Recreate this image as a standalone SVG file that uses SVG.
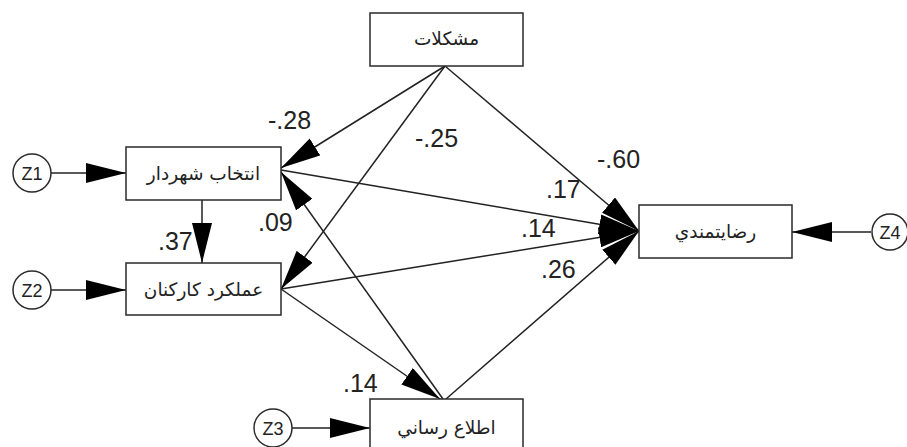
<svg xmlns="http://www.w3.org/2000/svg" width="907" height="447" viewBox="0 0 907 447">
<style>
.box{fill:#fff;stroke:#2a2a2a;stroke-width:1.5}
.circ{fill:#fff;stroke:#2a2a2a;stroke-width:1.5}
.lbl{font-family:"DejaVu Sans","Noto Sans",sans-serif;font-size:18.5px;fill:#222;text-anchor:middle}
.zl{font-family:"Liberation Sans",Arial,sans-serif;font-size:18px;fill:#222;text-anchor:middle}
.num{font-family:"Liberation Sans",Arial,sans-serif;font-size:25px;fill:#222;direction:ltr;unicode-bidi:embed}
.edge{stroke:#222;stroke-width:1.5;fill:none;marker-end:url(#ah)}
</style>
<defs>
<marker id="ah" markerUnits="userSpaceOnUse" markerWidth="40" markerHeight="20" viewBox="0 0 40 20" refX="40" refY="10" orient="auto">
<path d="M0,0 L40,10 L0,20 Z" fill="#000"/>
</marker>
</defs>
<rect width="907" height="447" fill="#fff"/>
<g id="connectors">
<line class="edge" x1="445" y1="66" x2="281" y2="168"/>
<line class="edge" x1="445" y1="66" x2="281" y2="289"/>
<line class="edge" x1="445" y1="66" x2="639" y2="231"/>
<line class="edge" x1="281" y1="170" x2="639" y2="231"/>
<line class="edge" x1="281" y1="289" x2="639" y2="231"/>
<line class="edge" x1="202" y1="200" x2="202" y2="263"/>
<line class="edge" x1="281" y1="289" x2="440" y2="399"/>
<line class="edge" x1="443" y1="399" x2="281" y2="172"/>
<line class="edge" x1="446" y1="399" x2="639" y2="231"/>
<line class="edge" x1="51" y1="173" x2="126" y2="173"/>
<line class="edge" x1="51" y1="290" x2="126" y2="290"/>
<line class="edge" x1="292" y1="428" x2="370" y2="428"/>
<line class="edge" x1="871" y1="232" x2="792" y2="232"/>
</g>
<g id="n-moshkelat">
<rect class="box" x="370" y="13" width="153" height="53"/>
<text class="lbl" x="446.5" y="45">مشكلات</text>
</g>
<g id="n-entekhab">
<rect class="box" x="126" y="147" width="155" height="53"/>
<text class="lbl" x="203.5" y="180">انتخاب شهردار</text>
</g>
<g id="n-amalkard">
<rect class="box" x="126" y="263" width="155" height="52"/>
<text class="lbl" x="203.5" y="296">عملكرد كاركنان</text>
</g>
<g id="n-rezayat">
<rect class="box" x="639" y="205" width="153" height="53"/>
<text class="lbl" x="715.5" y="238">رضايتمندي</text>
</g>
<g id="n-etela">
<rect class="box" x="370" y="399" width="153" height="55"/>
<text class="lbl" x="446.5" y="434">اطلاع رساني</text>
</g>
<g id="n-z1">
<circle class="circ" cx="32" cy="173" r="19"/>
<text class="zl" x="32" y="179.5">Z1</text>
</g>
<g id="n-z2">
<circle class="circ" cx="32" cy="290" r="19"/>
<text class="zl" x="32" y="296.5">Z2</text>
</g>
<g id="n-z3">
<circle class="circ" cx="273" cy="428" r="19"/>
<text class="zl" x="273" y="434.5">Z3</text>
</g>
<g id="n-z4">
<circle class="circ" cx="890" cy="232" r="18"/>
<text class="zl" x="890" y="238.5">Z4</text>
</g>
<g id="labels">
<text class="num" x="268" y="129">-.28</text>
<text class="num" x="415" y="147">-.25</text>
<text class="num" x="597" y="168">-.60</text>
<text class="num" x="546" y="198">.17</text>
<text class="num" x="521" y="237">.14</text>
<text class="num" x="541" y="278">.26</text>
<text class="num" x="158" y="250">.37</text>
<text class="num" x="258" y="231">.09</text>
<text class="num" x="343" y="392">.14</text>
</g>
</svg>
